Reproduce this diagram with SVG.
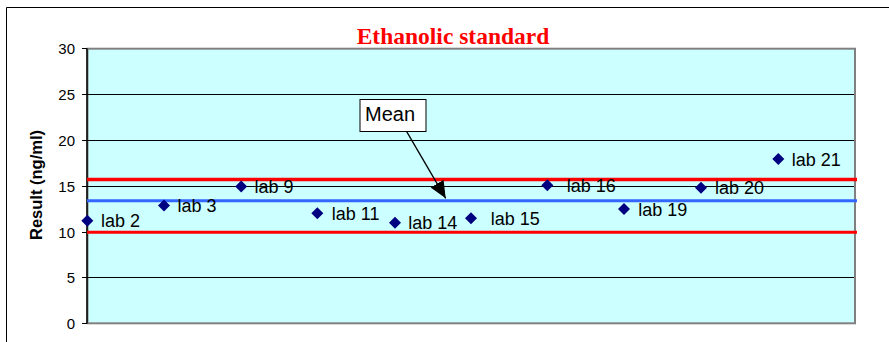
<svg xmlns="http://www.w3.org/2000/svg" width="889" height="342" viewBox="0 0 889 342">
<style>
.frame{stroke:#000;stroke-width:1;fill:none}
.grid{stroke:#000;stroke-width:1}
.tick{stroke:#000;stroke-width:1}
.ytl{font-family:"Liberation Sans",Arial,sans-serif;font-size:15px;fill:#000;text-anchor:end}
.lbl{font-family:"Liberation Sans",Arial,sans-serif;font-size:18px;fill:#000}
.pt{fill:#000080}
</style>
<defs>
<marker id="ah" markerUnits="userSpaceOnUse" markerWidth="18" markerHeight="16" refX="17" refY="7.5" orient="auto">
<path d="M0,0 L17,7.5 L0,15 Z" fill="#000"/>
</marker>
</defs>
<rect width="889" height="342" fill="#fff"/>
<path class="frame" d="M6.5,342 V7.5 H889"/>
<text x="453" y="44" font-family="'Liberation Serif','Times New Roman',serif" font-size="23.5" font-weight="bold" fill="#ff0000" text-anchor="middle">Ethanolic standard</text>
<g id="plot">
<rect x="87.5" y="48.7" width="767.5" height="274.6" fill="#ccffff" stroke="#808080" stroke-width="2"/>
<g class="grid">
<line x1="87" y1="94.5" x2="854" y2="94.5"/>
<line x1="87" y1="140.5" x2="854" y2="140.5"/>
<line x1="87" y1="186.5" x2="854" y2="186.5"/>
<line x1="87" y1="232.5" x2="854" y2="232.5"/>
<line x1="87" y1="277.5" x2="854" y2="277.5"/>
</g>
<line x1="87" y1="48.5" x2="87" y2="323.5" stroke="#000" stroke-width="1.5"/>
<g class="tick">
<line x1="82" y1="48.5" x2="87" y2="48.5"/>
<line x1="82" y1="94.5" x2="87" y2="94.5"/>
<line x1="82" y1="140.5" x2="87" y2="140.5"/>
<line x1="82" y1="186.5" x2="87" y2="186.5"/>
<line x1="82" y1="232.5" x2="87" y2="232.5"/>
<line x1="82" y1="277.5" x2="87" y2="277.5"/>
<line x1="82" y1="323.5" x2="87" y2="323.5"/>
</g>
<text class="ytl" x="75" y="54">30</text>
<text class="ytl" x="75" y="100">25</text>
<text class="ytl" x="75" y="146">20</text>
<text class="ytl" x="75" y="192">15</text>
<text class="ytl" x="75" y="238">10</text>
<text class="ytl" x="75" y="283">5</text>
<text class="ytl" x="75" y="329">0</text>
<text transform="translate(42,185) rotate(-90)" font-family="'Liberation Sans',Arial,sans-serif" font-size="16.5" font-weight="bold" text-anchor="middle" fill="#000">Result (ng/ml)</text>
</g>
<g id="limits">
<line x1="87" y1="179.5" x2="857" y2="179.5" stroke="#ff0000" stroke-width="3.5"/>
<line x1="87" y1="232.3" x2="857" y2="232.3" stroke="#ff0000" stroke-width="3"/>
<line id="mean-line" x1="87" y1="200.8" x2="857" y2="200.8" stroke="#3366ff" stroke-width="3"/>
</g>
<g id="points">
<g id="lab2"><path class="pt" d="M87.3,214.7 l6,6 l-6,6 l-6,-6 Z"/><text class="lbl" x="101" y="227.3">lab 2</text></g>
<g id="lab3"><path class="pt" d="M164,199.6 l6,6 l-6,6 l-6,-6 Z"/><text class="lbl" x="177.5" y="212">lab 3</text></g>
<g id="lab9"><path class="pt" d="M241.2,180.6 l6,6 l-6,6 l-6,-6 Z"/><text class="lbl" x="254.5" y="193">lab 9</text></g>
<g id="lab11"><path class="pt" d="M317.3,207.3 l6,6 l-6,6 l-6,-6 Z"/><text class="lbl" x="331.7" y="219.8">lab 11</text></g>
<g id="lab14"><path class="pt" d="M395,216.7 l6,6 l-6,6 l-6,-6 Z"/><text class="lbl" x="408.3" y="229.2">lab 14</text></g>
<g id="lab15"><path class="pt" d="M471,212.3 l6,6 l-6,6 l-6,-6 Z"/><text class="lbl" x="490.7" y="224.8">lab 15</text></g>
<g id="lab16"><path class="pt" d="M547.3,179.3 l6,6 l-6,6 l-6,-6 Z"/><text class="lbl" x="566.7" y="191.8">lab 16</text></g>
<g id="lab19"><path class="pt" d="M624,203 l6,6 l-6,6 l-6,-6 Z"/><text class="lbl" x="638.3" y="215.5">lab 19</text></g>
<g id="lab20"><path class="pt" d="M701,181.7 l6,6 l-6,6 l-6,-6 Z"/><text class="lbl" x="715" y="194.2">lab 20</text></g>
<g id="lab21"><path class="pt" d="M778.3,153 l6,6 l-6,6 l-6,-6 Z"/><text class="lbl" x="791.7" y="165.5">lab 21</text></g>
</g>
<g id="mean-callout">
<rect x="360" y="99.5" width="66" height="32" fill="#fff" stroke="#000" stroke-width="1"/>
<text x="365" y="121" font-family="'Liberation Sans',Arial,sans-serif" font-size="20" fill="#000">Mean</text>
</g>
<g id="connectors">
<line x1="406.7" y1="131.7" x2="445.7" y2="198.3" stroke="#000" stroke-width="1.3" marker-end="url(#ah)"/>
</g>
</svg>
